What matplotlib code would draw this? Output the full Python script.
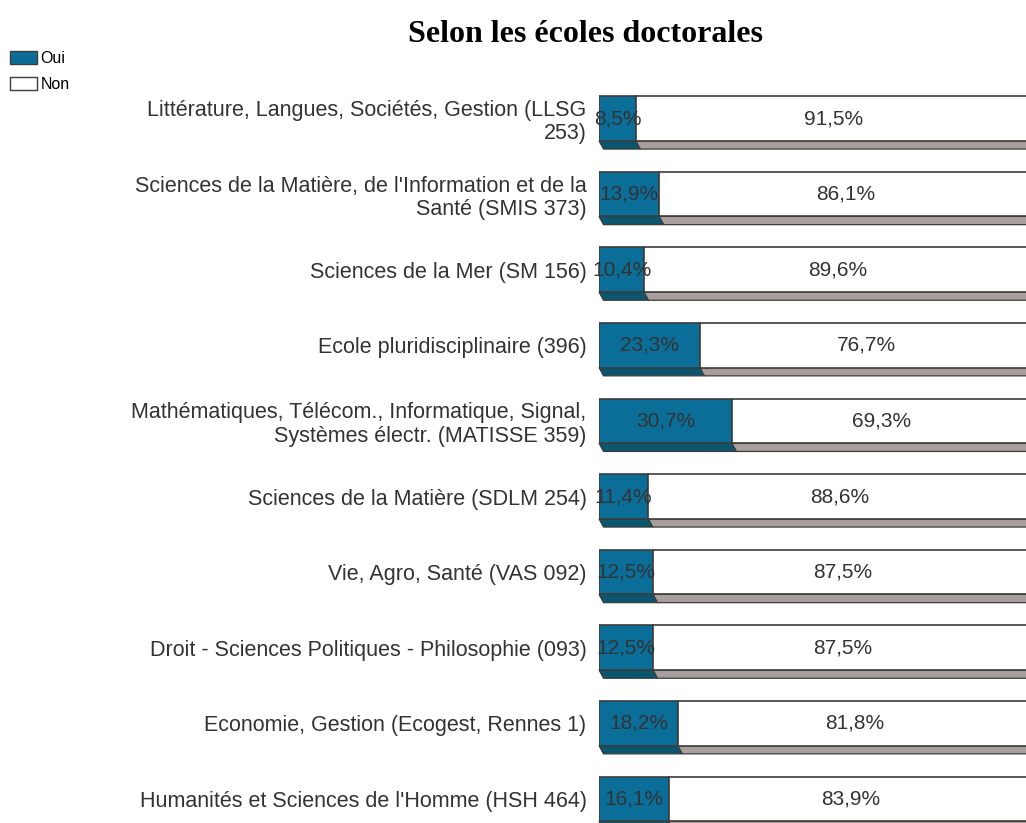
import matplotlib.pyplot as plt
from matplotlib.patches import Polygon, Patch

plt.rcParams['font.family'] = ['Liberation Sans', 'DejaVu Sans']

categories = [
    "Littérature, Langues, Sociétés, Gestion (LLSG\n253)",
    "Sciences de la Matière, de l'Information et de la\nSanté (SMIS 373)",
    "Sciences de la Mer (SM 156)",
    "Ecole pluridisciplinaire (396)",
    "Mathématiques, Télécom., Informatique, Signal,\nSystèmes électr. (MATISSE 359)",
    "Sciences de la Matière (SDLM 254)",
    "Vie, Agro, Santé (VAS 092)",
    "Droit - Sciences Politiques - Philosophie (093)",
    "Economie, Gestion (Ecogest, Rennes 1)",
    "Humanités et Sciences de l'Homme (HSH 464)",
]
oui = [8.5, 13.9, 10.4, 23.3, 30.7, 11.4, 12.5, 12.5, 18.2, 16.1]
non = [91.5, 86.1, 89.6, 76.7, 69.3, 88.6, 87.5, 87.5, 81.8, 83.9]

blue = '#0a6e99'
blue_dark = '#0b566f'
grey_dark = '#a89f9c'
edge = '#3c3c3c'
txt = '#333333'

W, H = 1026, 823
fig = plt.figure(figsize=(W / 100, H / 100), dpi=100)

# axes placed in pixels: bars start at x=599, 100% ~ 433 px, rows 75.6 px apart
row_px = 75.6
y_top = 118.5 - 0.5 * row_px
y_bot = y_top + 10 * row_px
ax = fig.add_axes([599 / W, (H - y_bot) / H, 433 / W, (y_bot - y_top) / H])
ax.set_xlim(0, 100)
ax.set_ylim(9.5, -0.5)

h = 44.5 / row_px
dx = 4.5 / 4.33
dy = 8.3 / row_px

ypos = list(range(len(categories)))

# 3D depth under each segment
for i in ypos:
    yb = i + h / 2
    for x0, w, c in [(0, oui[i], blue_dark), (oui[i], non[i], grey_dark)]:
        x1 = x0 + w
        pts = [(x0, yb), (x1, yb), (x1 + dx, yb + dy), (x0 + dx, yb + dy)]
        ax.add_patch(Polygon(pts, closed=True, facecolor=c, edgecolor=edge,
                             lw=0.9, zorder=1, clip_on=False))

ax.barh(ypos, oui, height=h, color=blue, edgecolor=edge, lw=1.2, zorder=2)
ax.barh(ypos, non, left=oui, height=h, color='white', edgecolor=edge, lw=1.2, zorder=2)

for i in ypos:
    ax.text(oui[i] / 2, i, f"{oui[i]:.1f}%".replace('.', ','), ha='center', va='center',
            fontsize=15, color=txt, zorder=3)
    ax.text(oui[i] + non[i] / 2, i, f"{non[i]:.1f}%".replace('.', ','), ha='center',
            va='center', fontsize=15, color=txt, zorder=3)

ax.set_yticks(ypos)
ax.set_yticklabels(categories, fontsize=15.5, color=txt, linespacing=1.15)
ax.tick_params(axis='y', length=0, pad=9)
ax.set_xticks([])
for s in ax.spines.values():
    s.set_visible(False)

fig.text(585 / W, 1 - 35 / H, "Selon les écoles doctorales", ha='center', va='center',
         fontsize=23, fontweight='bold', family='Liberation Serif')

handles = [Patch(facecolor=blue, edgecolor=edge, lw=1),
           Patch(facecolor='white', edgecolor=edge, lw=1)]
fig.legend(handles, ['Oui', 'Non'], loc='upper left', bbox_to_anchor=(10 / W, 1 - 51 / H),
           frameon=False, handlelength=1.7, handleheight=0.85,
           handletextpad=0.2, labelspacing=0.7, borderpad=0, borderaxespad=0,
           prop={'size': 11.5})

fig.savefig('out.png', dpi=100)
